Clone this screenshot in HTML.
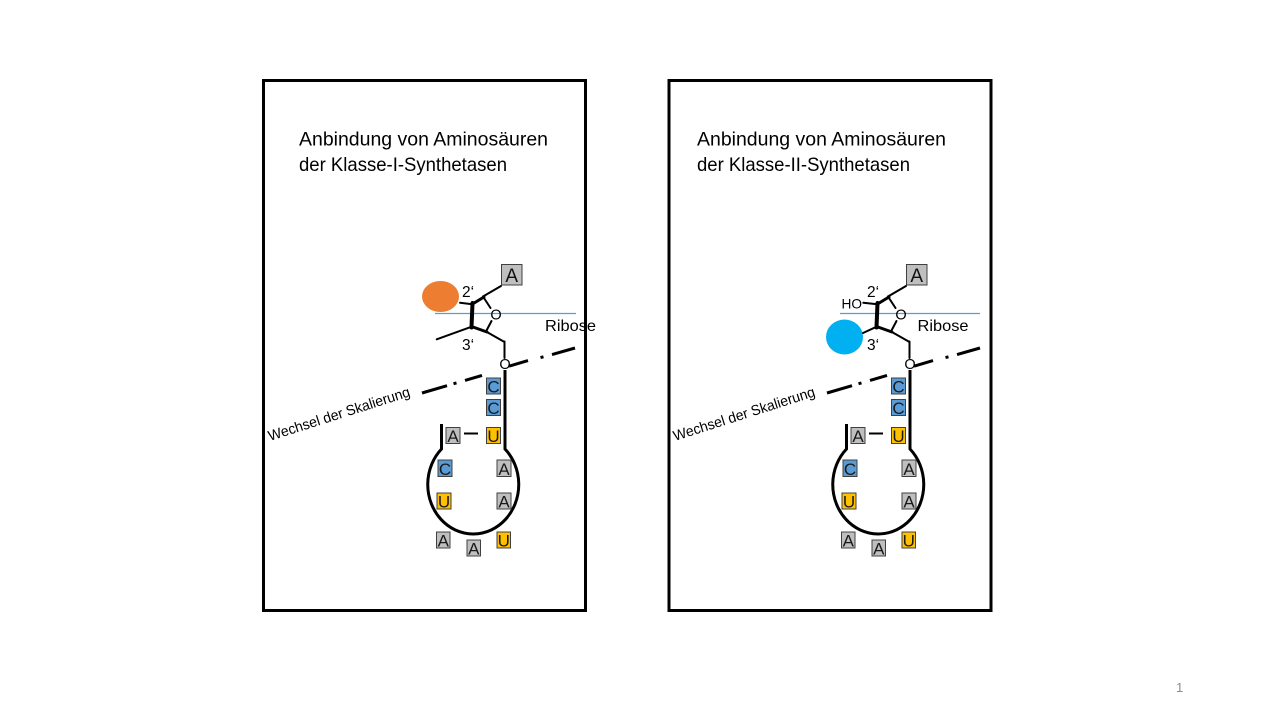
<!DOCTYPE html>
<html>
<head>
<meta charset="utf-8">
<style>
  html,body{margin:0;padding:0;background:#fff;}
  svg{display:block;}
  text{font-family:"Liberation Sans","DejaVu Sans",sans-serif;}
</style>
</head>
<body>
<svg width="1280" height="720" viewBox="0 0 1280 720" xmlns="http://www.w3.org/2000/svg">
  <rect x="0" y="0" width="1280" height="720" fill="#fff"/>

  <!-- Frames -->
  <rect x="263.5" y="80.5" width="322" height="530" fill="none" stroke="#000" stroke-width="3"/>
  <rect x="669" y="80.5" width="322" height="530" fill="none" stroke="#000" stroke-width="3"/>

  <!-- Titles -->
  <text x="299" y="145.5" font-size="19.5" fill="#000" textLength="249" lengthAdjust="spacingAndGlyphs">Anbindung von Aminosäuren</text>
  <text x="299" y="171" font-size="19.5" fill="#000" textLength="208" lengthAdjust="spacingAndGlyphs">der Klasse-I-Synthetasen</text>
  <text x="697" y="145.5" font-size="19.5" fill="#000" textLength="249" lengthAdjust="spacingAndGlyphs">Anbindung von Aminosäuren</text>
  <text x="697" y="171" font-size="19.5" fill="#000" textLength="213" lengthAdjust="spacingAndGlyphs">der Klasse-II-Synthetasen</text>

  <!-- ================= LEFT PANEL ================= -->
  <g id="left">
    <line x1="435" y1="313.5" x2="576" y2="313.5" stroke="#5b9bd5" stroke-width="1.2"/>
    <ellipse cx="440.5" cy="296.5" rx="18.5" ry="15.5" fill="#ed7d31"/>
    <g stroke="#000" stroke-linecap="round" fill="none">
      <line x1="501" y1="286" x2="483" y2="296.5" stroke-width="2"/>
      <line x1="483" y1="296.5" x2="490.5" y2="308" stroke-width="2"/>
      <line x1="491.5" y1="321" x2="486" y2="331.5" stroke-width="2"/>
      <line x1="484" y1="297" x2="472.5" y2="304" stroke-width="3"/>
      <line x1="472.5" y1="303" x2="471.5" y2="327.5" stroke-width="4"/>
      <line x1="471.5" y1="326.5" x2="487" y2="332" stroke-width="3"/>
      <line x1="486" y1="331.5" x2="504.5" y2="342" stroke-width="2"/>
      <line x1="504.5" y1="341.5" x2="504.5" y2="358" stroke-width="2"/>
      <line x1="460" y1="302.7" x2="472.3" y2="304.3" stroke-width="2"/>
      <line x1="436.7" y1="339.3" x2="471.7" y2="326.7" stroke-width="2"/>
    </g>
    <text x="496" y="319.5" font-size="14.5" text-anchor="middle" fill="#000">O</text>
    <text x="462" y="297" font-size="15.5" fill="#000">2‘</text>
    <text x="462" y="350" font-size="15.5" fill="#000">3‘</text>
    <rect x="501.5" y="264.5" width="20.5" height="20.5" fill="#bfbfbf" stroke="#404040" stroke-width="1"/>
    <text x="511.75" y="282" font-size="19" text-anchor="middle" fill="#111">A</text>

    <g stroke="#000" stroke-width="3" stroke-linecap="butt">
      <line x1="422" y1="393" x2="447" y2="385.65"/>
      <line x1="453.5" y1="383.7" x2="456.5" y2="382.9"/>
      <line x1="465" y1="380.4" x2="482" y2="375.4"/>
      <line x1="509" y1="366.2" x2="528" y2="360.6"/>
      <line x1="540.5" y1="357.6" x2="543.5" y2="356.8"/>
      <line x1="552" y1="354.6" x2="575" y2="348"/>
    </g>
    <text x="505" y="369" font-size="14.5" text-anchor="middle" fill="#000">O</text>
    <text x="270" y="441" font-size="14.5" fill="#000" textLength="148" lengthAdjust="spacingAndGlyphs" transform="rotate(-17.7 270 441)">Wechsel der Skalierung</text>

    <path d="M441.5,424 L441.5,449 A45.5,49.5 0 1,0 505,449 L505,370" fill="none" stroke="#000" stroke-width="3"/>
    <line x1="464" y1="433.5" x2="478" y2="433.5" stroke="#000" stroke-width="2"/>

    <g stroke="#404040" stroke-width="1">
      <rect x="486.5" y="378" width="14" height="16" fill="#5b9bd5"/>
      <rect x="486.5" y="399.5" width="14" height="16" fill="#5b9bd5"/>
      <rect x="446" y="427.5" width="14" height="16" fill="#bfbfbf"/>
      <rect x="486.5" y="427.5" width="14" height="16" fill="#ffc000"/>
      <rect x="438" y="460" width="14" height="16.5" fill="#5b9bd5"/>
      <rect x="497" y="460" width="14" height="16.5" fill="#bfbfbf"/>
      <rect x="437" y="493" width="14" height="16" fill="#ffc000"/>
      <rect x="497" y="493" width="14" height="16" fill="#bfbfbf"/>
      <rect x="436.5" y="532" width="13.5" height="16" fill="#bfbfbf"/>
      <rect x="467" y="540" width="13.5" height="16" fill="#bfbfbf"/>
      <rect x="497" y="532" width="13.5" height="16" fill="#ffc000"/>
    </g>
    <g font-size="17" text-anchor="middle" fill="#1a1a1a">
      <text x="493.5" y="392.5">C</text>
      <text x="493.5" y="414">C</text>
      <text x="453" y="442">A</text>
      <text x="493.5" y="442">U</text>
      <text x="445" y="475">C</text>
      <text x="504" y="475">A</text>
      <text x="444" y="507.5">U</text>
      <text x="504" y="507.5">A</text>
      <text x="443.25" y="546.5">A</text>
      <text x="473.75" y="554.5">A</text>
      <text x="503.75" y="546.5">U</text>
    </g>
  </g>
  <text x="545" y="331" font-size="16" fill="#000" textLength="51" lengthAdjust="spacingAndGlyphs">Ribose</text>

  <!-- ================= RIGHT PANEL ================= -->
  <g transform="translate(405,0)">
    <line x1="435" y1="313.5" x2="575" y2="313.5" stroke="#5b9bd5" stroke-width="1.2"/>
    <ellipse cx="439.5" cy="337" rx="18.5" ry="17.5" fill="#00b0f0"/>
    <g stroke="#000" stroke-linecap="round" fill="none">
      <line x1="501" y1="286" x2="483" y2="296.5" stroke-width="2"/>
      <line x1="483" y1="296.5" x2="490.5" y2="308" stroke-width="2"/>
      <line x1="491.5" y1="321" x2="486" y2="331.5" stroke-width="2"/>
      <line x1="484" y1="297" x2="472.5" y2="304" stroke-width="3"/>
      <line x1="472.5" y1="303" x2="471.5" y2="327.5" stroke-width="4"/>
      <line x1="471.5" y1="326.5" x2="487" y2="332" stroke-width="3"/>
      <line x1="486" y1="331.5" x2="504.5" y2="342" stroke-width="2"/>
      <line x1="504.5" y1="341.5" x2="504.5" y2="358" stroke-width="2"/>
      <line x1="458.3" y1="302.7" x2="472.3" y2="304.3" stroke-width="2"/>
      <line x1="458" y1="333" x2="471.7" y2="326.7" stroke-width="2"/>
    </g>
    <text x="436.5" y="308.5" font-size="14" fill="#000" textLength="20.5" lengthAdjust="spacingAndGlyphs">HO</text>
    <text x="496" y="319.5" font-size="14.5" text-anchor="middle" fill="#000">O</text>
    <text x="462" y="297" font-size="15.5" fill="#000">2‘</text>
    <text x="462" y="350" font-size="15.5" fill="#000">3‘</text>
    <rect x="501.5" y="264.5" width="20.5" height="20.5" fill="#bfbfbf" stroke="#404040" stroke-width="1"/>
    <text x="511.75" y="282" font-size="19" text-anchor="middle" fill="#111">A</text>

    <g stroke="#000" stroke-width="3" stroke-linecap="butt">
      <line x1="422" y1="393" x2="447" y2="385.65"/>
      <line x1="453.5" y1="383.7" x2="456.5" y2="382.9"/>
      <line x1="465" y1="380.4" x2="482" y2="375.4"/>
      <line x1="509" y1="366.2" x2="528" y2="360.6"/>
      <line x1="540.5" y1="357.6" x2="543.5" y2="356.8"/>
      <line x1="552" y1="354.6" x2="575" y2="348"/>
    </g>
    <text x="505" y="369" font-size="14.5" text-anchor="middle" fill="#000">O</text>
    <text x="270" y="441" font-size="14.5" fill="#000" textLength="148" lengthAdjust="spacingAndGlyphs" transform="rotate(-17.7 270 441)">Wechsel der Skalierung</text>

    <path d="M441.5,424 L441.5,449 A45.5,49.5 0 1,0 505,449 L505,370" fill="none" stroke="#000" stroke-width="3"/>
    <line x1="464" y1="433.5" x2="478" y2="433.5" stroke="#000" stroke-width="2"/>

    <g stroke="#404040" stroke-width="1">
      <rect x="486.5" y="378" width="14" height="16" fill="#5b9bd5"/>
      <rect x="486.5" y="399.5" width="14" height="16" fill="#5b9bd5"/>
      <rect x="446" y="427.5" width="14" height="16" fill="#bfbfbf"/>
      <rect x="486.5" y="427.5" width="14" height="16" fill="#ffc000"/>
      <rect x="438" y="460" width="14" height="16.5" fill="#5b9bd5"/>
      <rect x="497" y="460" width="14" height="16.5" fill="#bfbfbf"/>
      <rect x="437" y="493" width="14" height="16" fill="#ffc000"/>
      <rect x="497" y="493" width="14" height="16" fill="#bfbfbf"/>
      <rect x="436.5" y="532" width="13.5" height="16" fill="#bfbfbf"/>
      <rect x="467" y="540" width="13.5" height="16" fill="#bfbfbf"/>
      <rect x="497" y="532" width="13.5" height="16" fill="#ffc000"/>
    </g>
    <g font-size="17" text-anchor="middle" fill="#1a1a1a">
      <text x="493.5" y="392.5">C</text>
      <text x="493.5" y="414">C</text>
      <text x="453" y="442">A</text>
      <text x="493.5" y="442">U</text>
      <text x="445" y="475">C</text>
      <text x="504" y="475">A</text>
      <text x="444" y="507.5">U</text>
      <text x="504" y="507.5">A</text>
      <text x="443.25" y="546.5">A</text>
      <text x="473.75" y="554.5">A</text>
      <text x="503.75" y="546.5">U</text>
    </g>
    <text x="512.5" y="331" font-size="16" fill="#000" textLength="51" lengthAdjust="spacingAndGlyphs">Ribose</text>
  </g>

  <!-- slide number -->
  <text x="1176" y="692" font-size="13" fill="#8c8c8c">1</text>
</svg>
</body>
</html>
